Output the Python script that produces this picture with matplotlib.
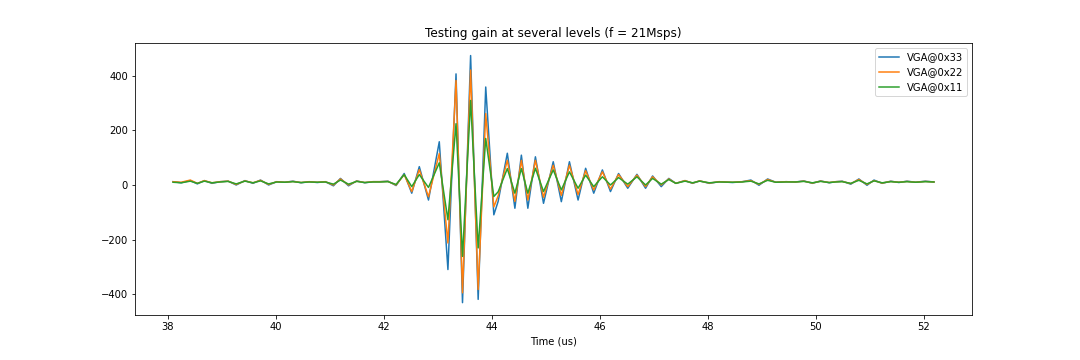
import matplotlib
matplotlib.use('Agg')
import matplotlib.pyplot as plt

# turning points of the sampled signal (time in us) and the value of each gain setting
t_us = [38.10, 38.25, 38.42, 38.55, 38.68, 38.82, 38.97, 39.12, 39.27, 39.43,
        39.58, 39.72, 39.87, 40.02, 40.17, 40.32, 40.47, 40.62, 40.77, 40.92,
        41.07, 41.20, 41.35, 41.50, 41.65, 41.80, 41.93, 42.08, 42.23, 42.38,
        42.52, 42.66, 42.83, 43.03, 43.19, 43.34, 43.46, 43.61, 43.75, 43.89,
        44.04, 44.12, 44.29, 44.43, 44.55, 44.67, 44.81, 44.96, 45.14, 45.29,
        45.44, 45.60, 45.74, 45.89, 46.05, 46.20, 46.35, 46.52, 46.69, 46.85,
        46.98, 47.14, 47.28, 47.41, 47.58, 47.72, 47.85, 48.03, 48.21, 48.46,
        48.64, 48.80, 48.95, 49.11, 49.26, 49.45, 49.63, 49.78, 49.94, 50.09,
        50.25, 50.37, 50.49, 50.65, 50.80, 50.95, 51.08, 51.23, 51.39, 51.54,
        51.69, 51.85, 52.03, 52.19]

vga_33 = [12, 8, 16, 4, 16, 6, 12, 14, 0, 16,
          6, 18, 0, 12, 10, 14, 8, 12, 9, 12,
          -3, 24, -3, 15, 8, 12, 12, 14, -2, 42,
          -30, 67, -55, 158, -309, 406, -430, 473, -418, 358,
          -109, -60, 116, -85, 109, -85, 103, -67, 85, -61,
          85, -55, 61, -30, 55, -24, 42, -12, 39, -12,
          33, -6, 24, 6, 16, 6, 15, 6, 12, 9,
          12, 18, -1, 22, 10, 12, 11, 15, 6, 15,
          8, 12, 14, 3, 22, -1, 18, 6, 14, 9,
          14, 10, 14, 11]

vga_22 = [12, 10, 18, 6, 16, 8, 12, 14, 2, 15,
          8, 17, 2, 12, 10, 13, 9, 12, 10, 12,
          0, 22, 0, 14, 9, 12, 12, 13, 0, 38,
          -24, 56, -43, 115, -212, 382, -394, 420, -382, 261,
          -80, -40, 90, -60, 90, -55, 90, -45, 72, -38,
          72, -35, 52, -18, 48, -15, 38, -6, 36, -6,
          30, 0, 22, 6, 16, 7, 15, 7, 12, 10,
          12, 16, 2, 20, 10, 12, 11, 14, 7, 14,
          9, 12, 13, 5, 20, 2, 16, 7, 13, 10,
          13, 10, 13, 11]

vga_11 = [10, 8, 14, 6, 14, 8, 11, 13, 4, 14,
          8, 15, 4, 11, 10, 12, 9, 11, 10, 11,
          3, 18, 3, 13, 9, 11, 11, 12, 2, 38,
          -6, 38, -9, 81, -127, 224, -261, 309, -230, 170,
          -42, -25, 60, -30, 60, -30, 61, -24, 55, -18,
          48, -12, 36, -6, 30, 0, 27, 3, 30, 0,
          24, 3, 20, 6, 14, 8, 14, 8, 11, 10,
          11, 14, 4, 17, 10, 11, 11, 13, 8, 13,
          9, 11, 12, 6, 17, 4, 15, 8, 12, 10,
          12, 10, 12, 11]

labels = ['VGA@0x33', 'VGA@0x22', 'VGA@0x11']

fig = plt.figure(figsize=(15, 5), dpi=72)
fig.subplots_adjust(left=0.125, right=0.9, top=0.88, bottom=0.125)
ax = fig.add_subplot(111)

for vals, lab in zip([vga_33, vga_22, vga_11], labels):
    ax.plot(t_us, vals, label=lab)

ax.set_title('Testing gain at several levels (f = 21Msps)')
ax.set_xlabel('Time (us)')
ax.legend(loc='upper right')

fig.savefig('out.png', dpi=72)
